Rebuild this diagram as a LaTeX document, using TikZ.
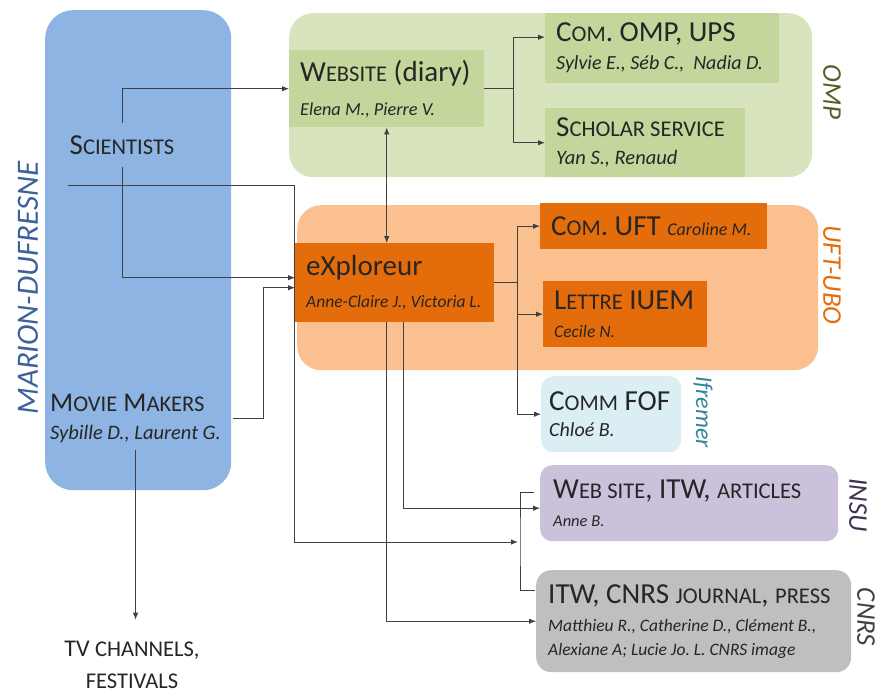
\documentclass[tikz,border=0pt]{standalone}
\usepackage{fontspec}
\setmainfont{Carlito}
\usetikzlibrary{calc,arrows.meta}
\frenchspacing

\definecolor{mdblue}{HTML}{8EB4E3}
\definecolor{mdtext}{HTML}{3C619B}
\definecolor{ompbg}{HTML}{D7E4BD}
\definecolor{ompbox}{HTML}{C3D69B}
\definecolor{omptext}{HTML}{4F6228}
\definecolor{uftbg}{HTML}{FAC090}
\definecolor{uftbox}{HTML}{E46C0A}
\definecolor{fofbg}{HTML}{DBEEF4}
\definecolor{foftext}{HTML}{31859C}
\definecolor{insubg}{HTML}{CCC1DA}
\definecolor{insutext}{HTML}{3F3151}
\definecolor{cnrsbg}{HTML}{BFBFBF}
\definecolor{cnrstext}{HTML}{404040}

% fake small caps and the italic people lines
\newcommand{\capsl}[1]{{\fontsize{22.5}{22.5}\selectfont #1}}
\newcommand{\people}[2][17.5]{{\fontsize{#1}{#1}\selectfont\itshape #2}}

\begin{document}
\begin{tikzpicture}[x=1pt,y=-1pt,
    >={Latex[length=7pt,width=5.5pt]},
    group/.style={anchor=north west, inner sep=0pt, rounded corners=#1},
    group/.default=24pt,
    team/.style={anchor=north west, inner xsep=11pt, inner ysep=0pt, align=left,
      text=black!85, font=\fontsize{29}{28}\selectfont,
      execute at begin node={\spaceskip=0pt\xspaceskip=0pt}},
    side/.style={font=\fontsize{27}{27}\selectfont\itshape},
    link/.style={black!75, line width=0.9pt}]
  \useasboundingbox (0,0) rectangle (877,693);

  % Big groups
  \node[group=28pt, fill=mdblue, minimum width=186pt, minimum height=480pt] (marion) at (45,10) {};
  \node[group, fill=ompbg, minimum width=523pt, minimum height=164pt] (omp) at (289,13) {};
  \node[group, fill=uftbg, minimum width=521pt, minimum height=165pt] (uft) at (297,205) {};

  % Group labels
  \node[side, rotate=90, text=mdtext, font=\fontsize{31}{31}\selectfont\itshape] (mdlab) at (28,288) {MARION-DUFRESNE};
  \node[side, rotate=-90, text=omptext] (omplab) at (832,92) {OMP};
  \node[side, rotate=-90, text=uftbox] (uftlab) at (832,275) {UFT-UBO};
  \node[side, rotate=-90, text=foftext, font=\fontsize{24}{24}\selectfont\itshape] (foflab) at (703,412) {Ifremer};
  \node[side, rotate=-90, text=insutext] (insulab) at (858,505) {INSU};
  \node[side, rotate=-90, text=cnrstext] (cnrslab) at (866,617) {CNRS};

  % OMP
  \node[team, fill=ompbox, text width=173pt, minimum height=77pt] (web) at (289,50)
    {W\capsl{EBSITE} (diary)\\[6pt] \people[18.3]{Elena M., Pierre V.}};
  \node[team, fill=ompbox, text width=212pt, minimum height=70pt] (comomp) at (545,13)
    {C\capsl{OM}. OMP, UPS\\ \people[20]{Sylvie E., Séb C.,\ \ Nadia D.}};
  \node[team, fill=ompbox, text width=178pt, minimum height=69pt] (scholar) at (545,108)
    {S\capsl{CHOLAR SERVICE}\\ \people[20.5]{Yan S., Renaud}};

  % UFT-UBO
  \node[team, fill=uftbox, text width=177pt, minimum height=79pt] (expl) at (295,243)
    {eXploreur\\[4pt] \people{Anne-Claire J., Victoria L.}};
  \node[team, fill=uftbox, text width=205pt, minimum height=46pt] (comuft) at (540,203)
    {C\capsl{OM}. UFT \people[18]{Caroline M.}};
  \node[team, fill=uftbox, text width=142pt, minimum height=66pt] (lettre) at (543,281)
    {L\capsl{ETTRE} IUEM\\ \people{Cecile N.}};

  % Ifremer, INSU, CNRS
  \node[team, group=12pt, fill=fofbg, inner xsep=8pt, text width=124pt, minimum height=76pt] (fof) at (541,376)
    {C\capsl{OMM} FOF\\[-2pt] \people[20]{Chloé B.}};
  \node[team, group=12pt, fill=insubg, inner xsep=13pt, text width=272pt, minimum height=76pt] (insu) at (540,465)
    {W\capsl{EB SITE}, ITW, \capsl{ARTICLES}\\ \people[16.5]{Anne B.}};
  \node[team, group=15pt, fill=cnrsbg, inner xsep=12pt, text width=291pt, minimum height=102pt] (cnrs) at (536,570)
    {ITW, CNRS \capsl{JOURNAL}, \capsl{PRESS}\\
     \people{Matthieu R., Catherine D., Clément B.,}\\[-4pt]
     \people{Alexiane A; Lucie Jo. L. CNRS image}};

  % Marion-Dufresne people
  \node[text=black!85, font=\fontsize{29}{29}\selectfont, inner ysep=12pt] (sci) at (122,145)
    {S\capsl{CIENTISTS}};
  \node[anchor=west, align=left, text=black!85, font=\fontsize{27}{28}\selectfont,
    inner xsep=12pt, inner ysep=7pt] (movie) at (38,418)
    {M\capsl{OVIE} M\capsl{AKERS}\\ \people[20.5]{Sybille D., Laurent G.}};
  \node[align=center, text=black!85, font=\fontsize{24}{32}\selectfont] (tv) at (132,665)
    {TV \capsl{CHANNELS,}\\ \capsl{FESTIVALS}};

  \coordinate (sciline) at (68,185);
  \coordinate (brace) at (518,542);

  % Connecting lines
  \draw[link, ->] (sci.north) |- (web.west);
  \draw[link, ->] (sci.south) |- ([yshift=5pt]expl.west);
  \draw[link, ->] (movie.east) -- ++(30,0) |- ([yshift=-5pt]expl.west);
  \draw[link, ->, shorten >=18pt] (movie.south) -- (movie.south |- tv.north);
  \draw[link, <->] (web.south) -- (web.south |- expl.north);

  \draw[link, ->] (web.east) -- ++(29,0) |- ([yshift=11pt]comomp.west);
  \draw[link, ->] (web.east) -- ++(29,0) |- (scholar.west);

  \foreach \t in {comuft, lettre, fof} {
      \draw[link, ->] (expl.east) -- ++(23,0) |- (\t.west);
    }

  \draw[link, ->] ([xshift=8.5pt]expl.south) |- ([yshift=-5pt]insu.west);
  \draw[link, ->] ([xshift=-8.5pt]expl.south) |- (cnrs.west);

  \draw[link, ->] (sciline) -- ++(226,0) |- (brace);
  \draw[link] ($(brace)+(16,-50)$) -| ($(brace)+(2,0)$) |- ($(brace)+(17,48)$);
\end{tikzpicture}
\end{document}
